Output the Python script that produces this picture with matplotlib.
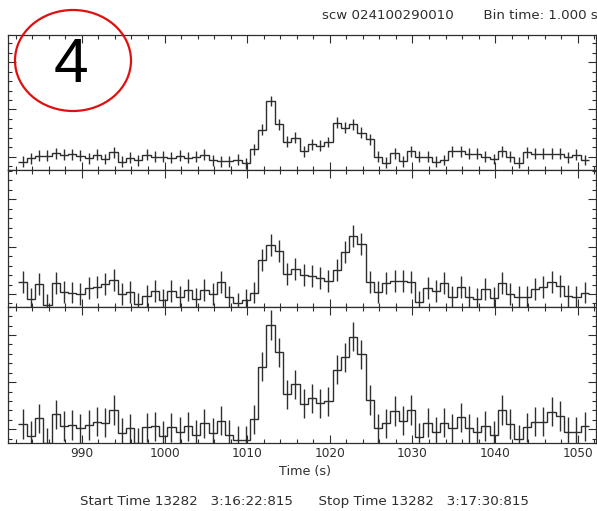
import numpy as np
import matplotlib
matplotlib.use("Agg")
import matplotlib.pyplot as plt
from matplotlib.patches import Ellipse
from matplotlib.ticker import MultipleLocator, NullFormatter

# 1 s binned light curves in three energy bands (counts/s)
t_first = 982.33      # left edge of the first bin (s)
bin_time = 1.0

rate_top = [89, 97, 102, 102, 107, 104, 105, 102, 97, 104,
            95, 109, 89, 98, 92, 104, 100, 100, 98, 102,
            98, 100, 104, 92, 90, 90, 94, 86, 116, 157,
            218, 169, 132, 140, 111, 126, 123, 131, 172, 161,
            169, 151, 137, 100, 87, 107, 90, 111, 100, 100,
            89, 93, 111, 111, 106, 106, 100, 95, 111, 100,
            87, 109, 106, 106, 106, 106, 99, 104, 93]

rate_mid = [126, 89, 121, 77, 124, 105, 103, 100, 112, 114,
            121, 130, 100, 105, 79, 96, 107, 87, 107, 93,
            108, 89, 108, 100, 126, 93, 80, 87, 103, 172,
            204, 191, 142, 152, 140, 138, 133, 128, 151, 189,
            223, 206, 126, 105, 123, 128, 128, 126, 84, 112,
            107, 123, 93, 115, 94, 89, 110, 91, 124, 100,
            93, 94, 110, 114, 126, 117, 96, 93, 103]

rate_bot = [111, 86, 123, 71, 132, 107, 109, 102, 109, 116,
            114, 141, 92, 102, 71, 104, 106, 86, 104, 95,
            106, 88, 113, 92, 118, 88, 77, 77, 121, 233,
            321, 263, 174, 195, 154, 166, 155, 159, 226, 253,
            296, 259, 162, 102, 113, 139, 118, 141, 83, 114,
            94, 114, 102, 125, 102, 94, 107, 87, 141, 111,
            79, 104, 116, 116, 137, 128, 94, 95, 106]

err_top = 11.5
err_mid = 23.0
err_bot = 31.0

header = "scw 024100290010       Bin time: 1.000 s"
footer = "Start Time 13282   3:16:22:815      Stop Time 13282   3:17:30:815"
xlabel = "Time (s)"
panel_tag = "4"

W, H = 597, 511
fig = plt.figure(figsize=(W / 100, H / 100), dpi=100)
fig.patch.set_facecolor("white")

ink = "#2e2e2e"
font = "DejaVu Sans"

# panel rectangles in pixels: (top, bottom)
left_px, right_px = 8.3, 596.0
panels = [
    (rate_top, err_top, (35.0, 170.0), (71.8, 357.8)),
    (rate_mid, err_mid, (170.0, 306.5), (73.6, 361.9)),
    (rate_bot, err_bot, (306.5, 443.0), (70.9, 360.4)),
]

axes = []
for i, (rates, err, (ytop, ybot), ylim) in enumerate(panels):
    rect = [left_px / W, 1 - ybot / H, (right_px - left_px) / W, (ybot - ytop) / H]
    ax = fig.add_axes(rect)
    rates = np.asarray(rates, dtype=float)
    edges = t_first + bin_time * np.arange(len(rates) + 1)
    centers = edges[:-1] + bin_time / 2
    ax.stairs(rates, edges, baseline=None, color=ink, lw=1.0)
    ax.errorbar(centers, rates, yerr=err, fmt="none", ecolor=ink, elinewidth=1.0)
    ax.set_xlim(981.1, 1052.2)
    ax.set_ylim(*ylim)
    ax.xaxis.set_major_locator(MultipleLocator(10))
    ax.xaxis.set_minor_locator(MultipleLocator(2))
    ax.yaxis.set_major_locator(MultipleLocator(100))
    ax.yaxis.set_minor_locator(MultipleLocator(20))
    ax.tick_params(which="both", direction="in", top=True, right=True,
                   color=ink, width=0.8)
    ax.tick_params(which="major", length=5.8)
    ax.tick_params(which="minor", length=2.9)
    ax.yaxis.set_major_formatter(NullFormatter())
    if i < 2:
        ax.xaxis.set_major_formatter(NullFormatter())
    else:
        ax.tick_params(axis="x", which="major", labelsize=8.7, pad=3.0,
                       labelcolor=ink)
        for lab in ax.get_xticklabels():
            lab.set_family(font)
    for s in ax.spines.values():
        s.set_color(ink)
        s.set_linewidth(0.9)
    axes.append(ax)

fig.text(305 / W, 1 - 472 / H, xlabel, ha="center", va="center",
         fontsize=9.2, family=font, color=ink)
fig.text(304 / W, 1 - 502 / H, footer, ha="center", va="center",
         fontsize=9.7, family=font, color=ink)
fig.text(322 / W, 1 - 15.7 / H, header, ha="left", va="center",
         fontsize=9.6, family=font, color=ink)

# circled panel number
fig.patches.append(Ellipse((73 / W, 1 - 60.5 / H), 116 / W, 101 / H,
                           transform=fig.transFigure, fill=False,
                           edgecolor="#e01010", lw=1.6, zorder=10))
fig.text(71 / W, 1 - 65 / H, panel_tag, ha="center", va="center",
         fontsize=45, family="Liberation Sans", color="black", zorder=11)

fig.savefig("out.png", dpi=100, facecolor="white")
